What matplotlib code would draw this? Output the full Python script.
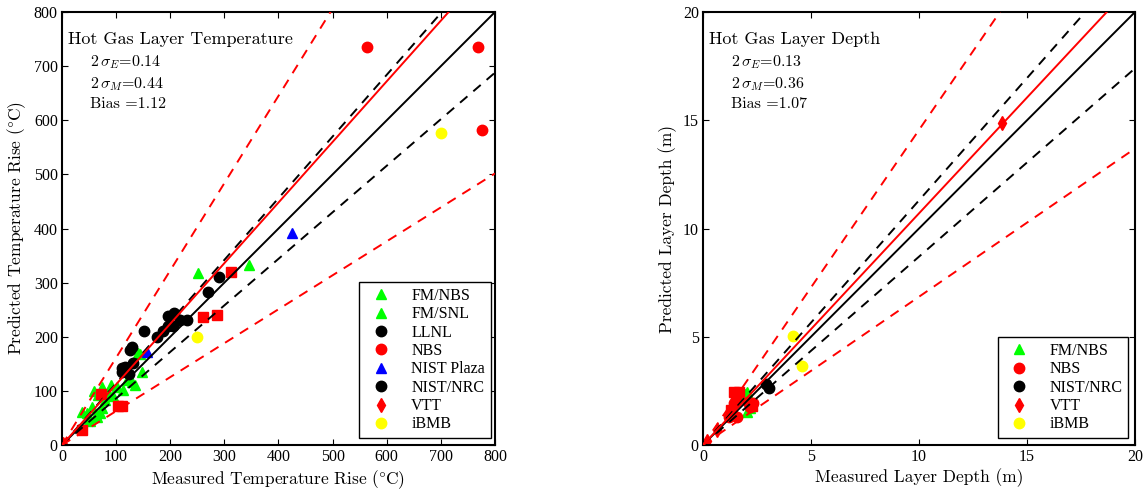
import numpy as np
import matplotlib
matplotlib.use("Agg")
import matplotlib.pyplot as plt

plt.rcParams['mathtext.fontset'] = 'cm'
plt.rcParams['font.family'] = ['Liberation Serif', 'DejaVu Serif']

# ---- Hot gas layer temperature (measured, predicted) in degC ----
temp_fm_nbs_x = [37, 46, 49, 55, 65, 67, 74, 74, 79, 85, 101, 113, 129, 135, 148, 60, 70, 90, 120, 140, 52, 62, 95]
temp_fm_nbs_y = [61, 59, 46, 70, 52, 92, 107, 68, 83, 98, 107, 102, 116, 111, 135, 100, 60, 110, 120, 170, 45, 55, 90]
temp_fm_snl_x = [252, 346, 145]
temp_fm_snl_y = [318, 333, 168]
temp_llnl_x = [195, 207, 218, 231, 196, 206, 187, 175, 111, 116, 132, 123, 129, 110]
temp_llnl_y = [239, 244, 231, 231, 220, 220, 211, 200, 143, 145, 152, 131, 181, 135]
temp_nbs_x = [564, 769, 776]
temp_nbs_y = [735, 735, 582]
temp_plaza_x = [0, 157, 425]
temp_plaza_y = [0, 172, 392]
temp_nrc_x = [269, 290, 152, 126]
temp_nrc_y = [282, 310, 211, 175]
temp_vtt_x = [2]
temp_vtt_y = [2]
temp_ibmb_x = [250, 700]
temp_ibmb_y = [200, 577]
temp_sq_x = [312, 261, 286, 103, 110, 37, 72]
temp_sq_y = [320, 237, 240, 72, 73, 27, 95]
temp_stats = ['0.14', '0.44', '1.12']

# ---- Hot gas layer depth (measured, predicted) in m ----
depth_fm_nbs_x = [2.04, 1.85, 2.04, 2.2, 1.95]
depth_fm_nbs_y = [2.45, 2.22, 1.52, 1.7, 2.35]
depth_nbs_x = [1.44, 2.18, 2.33, 1.34, 1.57, 1.2, 2.1]
depth_nbs_y = [1.94, 1.76, 1.94, 1.48, 1.29, 1.3, 2.0]
depth_nrc_x = [2.92, 3.06]
depth_nrc_y = [2.82, 2.63]
depth_vtt_x = [13.84, 0.65, 0.2]
depth_vtt_y = [14.88, 0.69, 0.2]
depth_ibmb_x = [4.17, 4.58]
depth_ibmb_y = [5.04, 3.65]
depth_sq_x = [1.45, 1.67, 1.55, 1.3, 2.25]
depth_sq_y = [2.45, 2.45, 2.3, 1.6, 1.8]
depth_stats = ['0.13', '0.36', '1.07']

GREEN = '#00ff00'
YELLOW = '#ffff00'
ms = 7.5
CM = ['cmr10', 'DejaVu Serif']


def draw_panel(ax, series, sq, stats, lim, ticks, title, xlabel, ylabel, legend_box):
    for x, y, mk, col, lab in series:
        ax.plot(x, y, linestyle='none', marker=mk, color=col, markersize=ms,
                markeredgecolor=col, label=lab, zorder=2)
    ax.plot(sq[0], sq[1], linestyle='none', marker='s', color='red', markersize=ms - 0.5,
            label='_nolegend_', zorder=2)

    sE, sM, bias = float(stats[0]), float(stats[1]), float(stats[2])
    xx = np.array([0, lim])
    ax.plot(xx, xx, 'k-', lw=1.4, zorder=3)
    ax.plot(xx, xx * (1 + sE), 'k--', lw=1.4, dashes=(5, 4), zorder=3)
    ax.plot(xx, xx * (1 - sE), 'k--', lw=1.4, dashes=(5, 4), zorder=3)
    ax.plot(xx, xx * bias, 'r-', lw=1.4, zorder=3)
    ax.plot(xx, xx * bias * (1 + sM), 'r--', lw=1.4, dashes=(5, 4), zorder=3)
    ax.plot(xx, xx * bias * (1 - sM), 'r--', lw=1.4, dashes=(5, 4), zorder=3)

    ax.set_xlim(0, lim)
    ax.set_ylim(0, lim)
    ax.set_xticks(ticks)
    ax.set_yticks(ticks)
    ax.tick_params(direction='in', top=True, right=True, length=4, width=0.8,
                   labelsize=11.5, pad=3)
    for s in ax.spines.values():
        s.set_linewidth(1.5)

    ax.set_xlabel(xlabel, fontfamily=CM, fontsize=12.5, labelpad=2)
    ax.set_ylabel(ylabel, fontfamily=CM, fontsize=12.5, labelpad=4)

    ax.text(0.015, 0.955, title, transform=ax.transAxes, fontfamily=CM,
            fontsize=13, va='top', ha='left')
    lines = [r'2$\,\sigma_E$=' + stats[0], r'2$\,\sigma_M$=' + stats[1], 'Bias =' + stats[2]]
    for i, t in enumerate(lines):
        ax.text(0.065, 0.905 - i * 0.051, t, transform=ax.transAxes, fontfamily=CM,
                fontsize=11.5, va='top', ha='left')

    leg = ax.legend(loc='lower right', bbox_to_anchor=legend_box, fontsize=11.5,
                    numpoints=1, handlelength=2.0, handletextpad=0.9, borderpad=0.35,
                    labelspacing=0.15, fancybox=False, edgecolor='black', framealpha=1,
                    borderaxespad=0)
    leg.get_frame().set_linewidth(1.0)


fig = plt.figure(figsize=(11.46, 4.92), dpi=100)
ax1 = fig.add_axes([0.0541, 0.0955, 0.3778, 0.880])
ax2 = fig.add_axes([0.6134, 0.0955, 0.3770, 0.880])

temp_series = [
    (temp_fm_nbs_x, temp_fm_nbs_y, '^', GREEN, 'FM/NBS'),
    (temp_fm_snl_x, temp_fm_snl_y, '^', GREEN, 'FM/SNL'),
    (temp_llnl_x, temp_llnl_y, 'o', 'black', 'LLNL'),
    (temp_nbs_x, temp_nbs_y, 'o', 'red', 'NBS'),
    (temp_plaza_x, temp_plaza_y, '^', 'blue', 'NIST Plaza'),
    (temp_nrc_x, temp_nrc_y, 'o', 'black', 'NIST/NRC'),
    (temp_vtt_x, temp_vtt_y, 'd', 'red', 'VTT'),
    (temp_ibmb_x, temp_ibmb_y, 'o', YELLOW, 'iBMB'),
]
draw_panel(ax1, temp_series, (temp_sq_x, temp_sq_y), temp_stats, 800,
           np.arange(0, 801, 100), 'Hot Gas Layer Temperature',
           r'Measured Temperature Rise ($\degree$C)', r'Predicted Temperature Rise ($\degree$C)',
           (0.99, 0.016))

depth_series = [
    (depth_fm_nbs_x, depth_fm_nbs_y, '^', GREEN, 'FM/NBS'),
    (depth_nbs_x, depth_nbs_y, 'o', 'red', 'NBS'),
    (depth_nrc_x, depth_nrc_y, 'o', 'black', 'NIST/NRC'),
    (depth_vtt_x, depth_vtt_y, 'd', 'red', 'VTT'),
    (depth_ibmb_x, depth_ibmb_y, 'o', YELLOW, 'iBMB'),
]
draw_panel(ax2, depth_series, (depth_sq_x, depth_sq_y), depth_stats, 20,
           np.arange(0, 21, 5), 'Hot Gas Layer Depth',
           'Measured Layer Depth (m)', 'Predicted Layer Depth (m)',
           (0.984, 0.016))

fig.savefig('out.png', dpi=100)
